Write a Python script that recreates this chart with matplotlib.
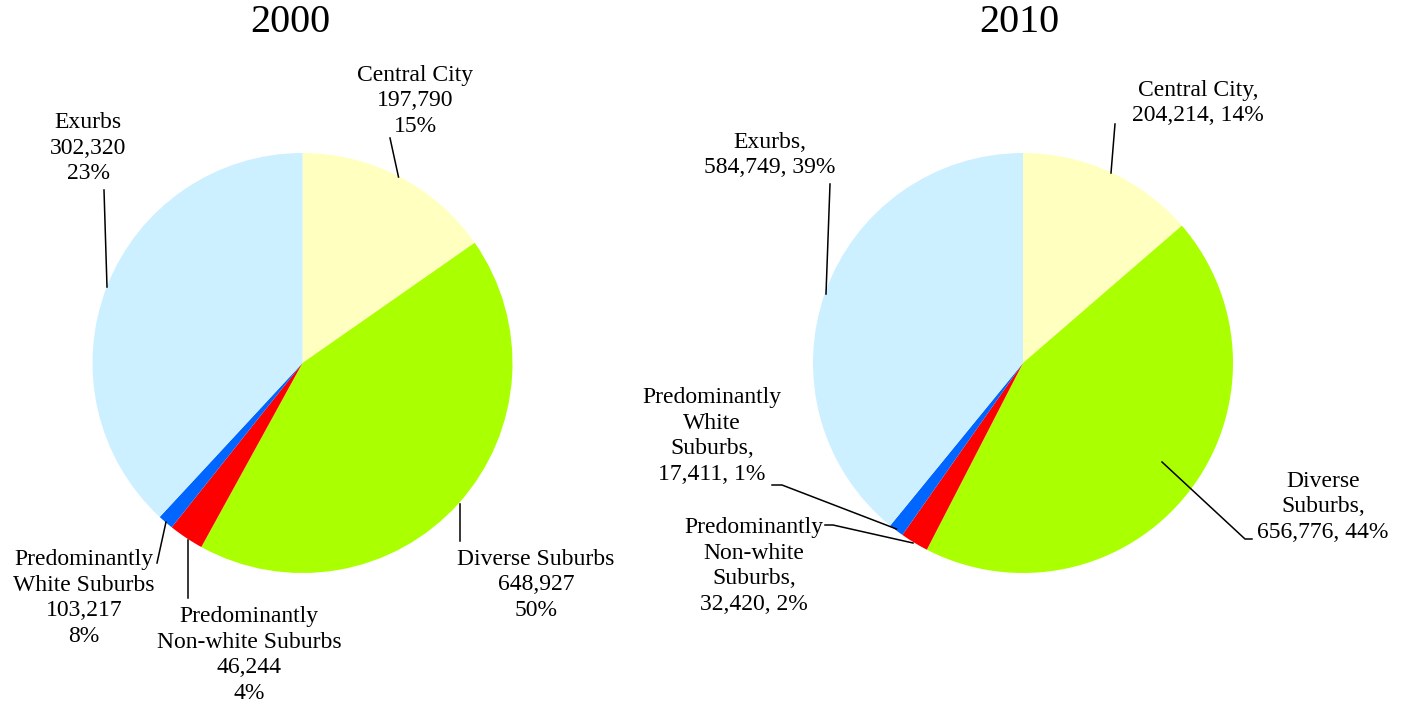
import matplotlib
matplotlib.use("Agg")
import matplotlib.pyplot as plt

# ---------------- data ----------------
categories = ["Central City", "Diverse Suburbs", "Predominantly Non-white Suburbs",
              "Predominantly White Suburbs", "Exurbs"]
values_2000 = [197790, 648927, 46244, 103217, 302320]
pct_2000 = [15, 50, 4, 8, 23]
# slice shares (%) as actually drawn in the 2000 pie of the reference
drawn_2000 = [15.3, 42.7, 2.7, 1.2, 38.1]
values_2010 = [204214, 656776, 32420, 17411, 584749]
pct_2010 = [14, 44, 2, 1, 39]
years = ["2000", "2010"]

names_2000 = ["Central City", "Diverse Suburbs", "Predominantly\nNon-white Suburbs",
              "Predominantly\nWhite Suburbs", "Exurbs"]
names_2010 = ["Central City,", "Diverse\nSuburbs,", "Predominantly\nNon-white\nSuburbs,",
              "Predominantly\nWhite\nSuburbs,", "Exurbs,"]
colors = ["#FFFFC0", "#AAFF00", "#FF0000", "#0066FF", "#CCF0FF"]

W, H = 1410, 707
R = 210
FONT = "Liberation Serif"

fig = plt.figure(figsize=(W / 100, H / 100), dpi=100)


def make_pie(cx, cy, sizes):
    ax = fig.add_axes([(cx - R) / W, (H - cy - R) / H, 2 * R / W, 2 * R / H])
    ax.pie(sizes, colors=colors, startangle=90, counterclock=False, radius=1,
           wedgeprops=dict(linewidth=0))
    ax.set_xlim(-1, 1)
    ax.set_ylim(-1, 1)
    ax.set_aspect("equal")
    ax.axis("off")
    return ax


def P(cx, cy, px, py):
    return (px - cx) / R, (cy - py) / R


def label(ax, cx, cy, px, py, txt, ha="center"):
    x, y = P(cx, cy, px, py)
    ax.text(x, y, txt, ha=ha, va="center", fontsize=17, family=FONT,
            linespacing=1.28, clip_on=False)


def leader(ax, cx, cy, pts):
    xs, ys = zip(*[P(cx, cy, a, b) for a, b in pts])
    ax.plot(xs, ys, color="black", lw=1.1, clip_on=False)


# ---------------- 2000 ----------------
cx1, cy1 = 302.5, 363
ax1 = make_pie(cx1, cy1, drawn_2000)
lab00 = [f"{n}\n{v:,}\n{p}%" for n, v, p in zip(names_2000, values_2000, pct_2000)]
label(ax1, cx1, cy1, 415, 101, lab00[0])
label(ax1, cx1, cy1, 536, 585, lab00[1])
label(ax1, cx1, cy1, 249, 655, lab00[2])
label(ax1, cx1, cy1, 84, 598, lab00[3])
label(ax1, cx1, cy1, 88, 148, lab00[4])
leader(ax1, cx1, cy1, [(390, 138), (398.5, 177)])
leader(ax1, cx1, cy1, [(460, 504), (460, 541)])
leader(ax1, cx1, cy1, [(188.3, 540), (188.3, 598)])
leader(ax1, cx1, cy1, [(166, 522), (157, 563)])
leader(ax1, cx1, cy1, [(104, 190), (107, 287)])

# ---------------- 2010 ----------------
cx2, cy2 = 1023, 363
ax2 = make_pie(cx2, cy2, values_2010)
lab10 = [f"{n}\n{v:,}, {p}%" for n, v, p in zip(names_2010, values_2010, pct_2010)]
label(ax2, cx2, cy2, 1198, 103, lab10[0])
label(ax2, cx2, cy2, 1323, 507, lab10[1])
label(ax2, cx2, cy2, 754, 566, lab10[2])
label(ax2, cx2, cy2, 712, 436, lab10[3])
label(ax2, cx2, cy2, 770, 155, lab10[4])
leader(ax2, cx2, cy2, [(1115, 124), (1111, 173)])
leader(ax2, cx2, cy2, [(1162, 462), (1245, 539), (1252, 539)])
leader(ax2, cx2, cy2, [(825, 525), (833, 525), (913, 543)])
leader(ax2, cx2, cy2, [(772, 485), (782, 485), (896.5, 529)])
leader(ax2, cx2, cy2, [(830, 184), (826, 294)])

# ---------------- titles ----------------
fig.text(290 / W, 1 - 23 / H, years[0], ha="center", va="center", fontsize=29, family=FONT)
fig.text(1019 / W, 1 - 23 / H, years[1], ha="center", va="center", fontsize=29, family=FONT)

fig.savefig("out.png", dpi=100, facecolor="white")
